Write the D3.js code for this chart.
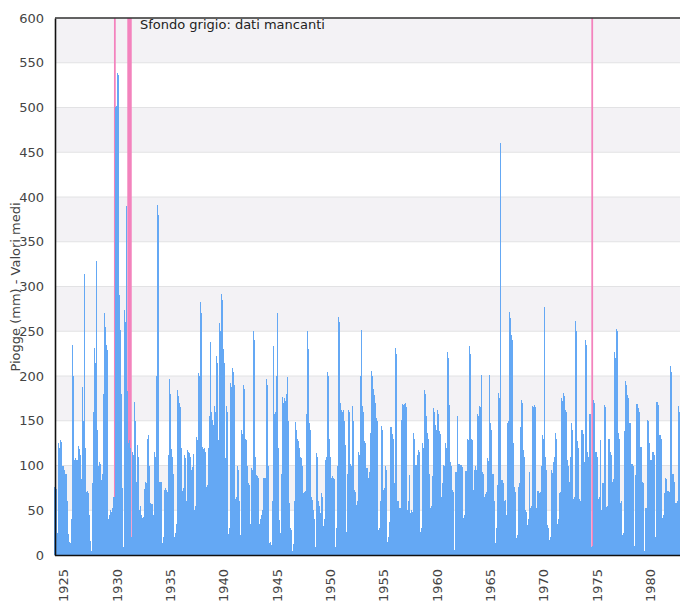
<!DOCTYPE html>
<html>
<head>
<meta charset="utf-8">
<script src="https://cdnjs.cloudflare.com/ajax/libs/d3/7.8.5/d3.min.js"></script>
<style>
    body { margin: 0; background: #fff; }
    svg { display: block; font-family: "DejaVu Sans", Verdana, sans-serif; }
</style>
</head>
<body>
<div id="chart"></div>
<script>

// Monthly rain (mm), consecutive months. First value is March 1924.
var rain1924 = [76,76,74,25,22,125,120,128,126,99,
    100,95,90,88,90,60,23,14,13,40,
    235,200,177,106,108,106,106,122,118,112,
    85,47,188,150,314,120,70,72,69,45,
    29,16,4,80,160,231,215,328,140,104,
    100,104,102,84,90,180,270,255,240,235,
    229,40,45,50,48,52,63,65,65,500,
    502,538,536,290,251,180,78,75,9,274,
    260,390,183,125,128,125,120,20,115,112,
    171,150,82,88,123,110,50,55,45,41,
    43,74,76,82,80,130,134,100,58,57,
    57,45,39,115,110,200,391,380,82];
// from Feb 1934
var rain1934 = [82,82,80,13,20,73,75,73,70,112,
    105,197,180,118,110,90,20,25,35,40,
    184,178,170,165,120,71,75,112,108,17,
    60,117,115,114,110,95,98,113,100,50,
    55,132,128,203,200,283,270,140,121,118,
    119,115,76,78,120,155,150,238,160,151,
    145,166,160,222,215,130,128,259,250,292,
    285,230,214,108,108,166,160,24,30,192,
    188,209,205,199,190,63,65,99,95,60,
    22,25,140,135,190,185,130,128,100,81,
    78,30,35,97,95,250,240,110,89,88,
    88,86,35,40,45,50,86,86];
// from Dec 1943
var rain1943 = [86,76,197,190,100,13,15,11,60,233,
    225,158,160,200,270,120,39,25,13,90,
    177,170,175,172,180,199,150,58,55,30,
    28,4,12,60,149,140,130,128,127,120,
    110,108,100,69,70,71,72,158,250,230,
    147,140,65,62,50,47,40,9,114,110,
    60,55,47,50,69,65,32,40,106,110,
    205,200,130,117,110,86,88,86,85,9,
    30,99,95,266,260,170,162,160,162,150,
    123,120,26,90,162,160,102,100,166,150,
    120,73,70,56,60,115,112,200,251,245,
    166,160,127,125,97,97,86,86];
// from Oct 1953
var rain1953 = [93,136,206,200,185,179,170,153,150,24,
    28,30,60,144,140,73,75,99,99,95,
    15,20,37,143,143,135,130,128,80,231,
    225,60,60,52,52,151,151,169,168,169,
    170,165,50,60,89,85,47,50,48,136,
    130,101,101,110,112,117,115,26,30,125,
    120,184,180,160,155,136,130,90,52,55,
    88,90,164,160,145,140,162,158,138,135,
    63,65,80,101,100,125,120,227,220,168,
    160,104,100,73,70,6,93,93,155,150,
    102,102,101,101,98,41,45,24,94,94,
    130,128,233,225,130,128,73,73];
// from Aug 1963
var rain1963 = [95,100,95,158,155,166,165,201,195,93,
    90,65,68,70,108,105,201,195,147,140,
    91,90,60,13,30,74,78,181,175,460,
    84,84,80,60,62,43,45,147,150,272,
    265,246,240,125,120,76,70,19,22,76,
    80,143,140,173,170,117,110,50,48,34,
    40,93,90,52,55,166,165,168,165,52,
    55,71,72,69,70,100,134,130,277,110,
    99,95,34,30,17,20,95,92,104,100,
    110,136,130,35,40,69,70,100,175,172,
    181,178,162,160,106,100,80,82,110,147,
    140,63,65,261,250,127,125,120];
// from Jun 1973
var rain1973 = [63,60,140,140,135,104,100,240,235,115,
    110,158,158,9,10,160,173,170,115,115,
    110,63,65,129,45,50,81,80,168,165,
    54,55,130,130,125,115,112,82,85,227,
    220,253,250,136,136,130,58,60,22,25,
    138,138,194,190,179,175,147,147,102,102,
    100,4,10,89,169,169,164,160,121,121,
    118,82,80,4,52,52,151,150,125,125,
    106,106,115,115,112,20,171,171,168,168,
    134,134,130,41,45,69,70,86,85,71,
    71,70,211,205,91,90,80,82,58,58,
    60,166,160];

var startYear = 1924, startMonth = 3;

// months without data (pink marks)
var missingStart = ["1929-10", "1931-01", "1974-07"];
var missingMonths = [2, 5, 2];

var yTicks = d3.range(0, 601, 50);
var xTicks = [1925, 1930, 1935, 1940, 1945, 1950, 1955, 1960, 1965, 1970, 1975, 1980];
var bandStarts = [50, 150, 250, 350, 450, 550];

var rain = rain1924.concat(rain1934, rain1943, rain1953, rain1963, rain1973);
var data = rain.map(function(v, i) {
    return {t: startYear + (startMonth - 1 + i) / 12, v: v};
});

var width = 680, height = 601;
var margin = {left: 55, top: 18, bottom: 555};

var svg = d3.select("#chart").append("svg")
    .attr("width", width)
    .attr("height", height);

// time in fractional years
var x = d3.scaleLinear()
    .domain([1924 + 2 / 12, 1983])
    .range([54.4, 682]);

var y = d3.scaleLinear()
    .domain([0, 600])
    .range([margin.bottom, margin.top]);

var monthW = x(1925 + 1 / 12) - x(1925);

// grey bands + grid
svg.append("g").selectAll("rect")
    .data(bandStarts)
    .enter().append("rect")
    .attr("x", margin.left).attr("width", width - margin.left)
    .attr("y", function(d) { return y(d + 50); })
    .attr("height", function(d) { return y(d) - y(d + 50); })
    .attr("fill", "#f3f2f5");

svg.append("g").selectAll("line")
    .data(yTicks.slice(1))
    .enter().append("line")
    .attr("x1", margin.left).attr("x2", width)
    .attr("y1", function(d) { return y(d); })
    .attr("y2", function(d) { return y(d); })
    .attr("stroke", "#e2e2e4")
    .attr("stroke-width", 1);

// missing data marks
svg.append("g").selectAll("rect")
    .data(missingStart)
    .enter().append("rect")
    .attr("x", function(d) {
        var p = d.split("-");
        return x(+p[0] + (p[1] - 1) / 12);
    })
    .attr("width", function(d, i) { return missingMonths[i] * monthW; })
    .attr("y", margin.top)
    .attr("height", margin.bottom - margin.top)
    .attr("fill", "#f383bd");

// bars snapped to whole pixels (at least one pixel wide)
svg.append("g")
    .attr("shape-rendering", "crispEdges")
    .selectAll("rect")
    .data(data)
    .enter().append("rect")
    .attr("x", function(d) { return Math.floor(x(d.t)); })
    .attr("width", function(d) {
        return Math.max(1, Math.floor(x(d.t + 1 / 12)) - Math.floor(x(d.t)));
    })
    .attr("y", function(d) { return Math.round(y(d.v)); })
    .attr("height", function(d) { return Math.round(y(0)) - Math.round(y(d.v)); })
    .attr("fill", "#64a8f4");

// Y Axis
var yAxis = svg.append("g")
    .attr("transform", "translate(" + margin.left + ",0)")
    .call(d3.axisLeft(y).tickValues(yTicks).tickSize(0).tickPadding(11));
yAxis.select(".domain").attr("stroke", "#111").attr("stroke-width", 1.6);
yAxis.selectAll("text").attr("fill", "#444").style("font-size", "13px")
    .style("font-family", "DejaVu Sans");

// X Axis
var xAxis = svg.append("g")
    .attr("transform", "translate(0," + margin.bottom + ")")
    .call(d3.axisBottom(x).tickValues(xTicks).tickFormat(d3.format("d")).tickSize(0));
xAxis.select(".domain").attr("stroke", "#111").attr("stroke-width", 1.6);
xAxis.selectAll("text")
    .attr("transform", "rotate(-90)")
    .attr("x", -14).attr("y", 0).attr("dy", "0.35em")
    .style("text-anchor", "end")
    .attr("fill", "#444").style("font-size", "13px")
    .style("font-family", "DejaVu Sans");

// top border
svg.append("line")
    .attr("x1", margin.left).attr("x2", width)
    .attr("y1", margin.top).attr("y2", margin.top)
    .attr("stroke", "#333").attr("stroke-width", 1.5);

svg.append("text")
    .attr("transform", "translate(20,287) rotate(-90)")
    .style("text-anchor", "middle")
    .style("font-size", "13px")
    .attr("fill", "#444")
    .text("Piogge (mm) - Valori medi");

svg.append("text")
    .attr("x", 140).attr("y", 29)
    .style("font-size", "13px")
    .attr("fill", "#222")
    .text("Sfondo grigio: dati mancanti");

</script>
</body>
</html>
